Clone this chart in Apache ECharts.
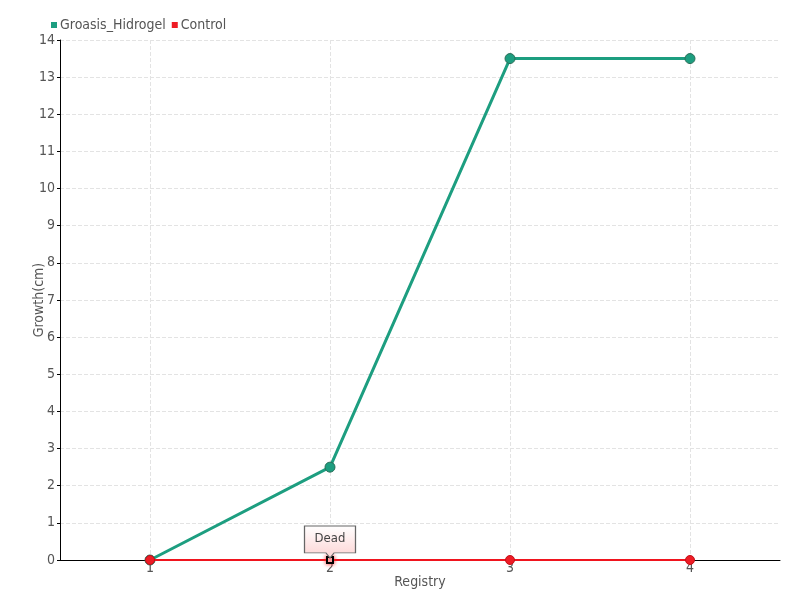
<!DOCTYPE html>
<html>
<head>
<meta charset="utf-8">
<script src="https://cdn.jsdelivr.net/npm/echarts@6/dist/echarts.min.js"></script>
<style>
  html, body { margin: 0; padding: 0; background: #fff; }
  #main { width: 800px; height: 600px; }
</style>
</head>
<body>
<div id="main"></div>
<script>
// data
const registry = ['1', '2', '3', '4'];
const hidrogel = [0, 2.5, 13.5, 13.5];
const control = [0, 0, 0, 0];
const deadIndex = 1;

const FONT = 'DejaVu Sans Condensed';

let myChart = echarts.init(document.getElementById('main'));

myChart.setOption({
  textStyle: { fontFamily: FONT },
  legend: {
    left: 46,
    top: 13,
    itemWidth: 6,
    itemHeight: 6,
    itemGap: 6,
    icon: 'rect',
    itemStyle: { borderWidth: 0 },
    textStyle: { fontFamily: FONT, fontSize: 14, color: '#555', padding: [0, 0, 0, -2] },
    data: ['Groasis_Hidrogel', 'Control']
  },
  grid: { left: 60, right: 20, top: 40, bottom: 40 },
  xAxis: {
    type: 'category',
    data: registry,
    name: 'Registry',
    nameLocation: 'middle',
    nameGap: 15,
    nameMoveOverlap: false,
    nameTextStyle: { fontFamily: FONT, fontSize: 14, color: '#555' },
    axisLine: { lineStyle: { color: '#000' } },
    axisTick: { alignWithLabel: true, lineStyle: { color: '#555' } },
    axisLabel: { fontFamily: FONT, fontSize: 14, color: '#555', margin: 1 },
    splitLine: { show: true, interval: 0, alignWithLabel: true, lineStyle: { type: 'dashed', color: '#e3e3e3' } }
  },
  yAxis: {
    type: 'value',
    min: 0,
    max: 14,
    interval: 1,
    name: 'Growth(cm)',
    nameLocation: 'middle',
    nameGap: 14,
    nameMoveOverlap: false,
    nameTextStyle: { fontFamily: FONT, fontSize: 14, color: '#555' },
    axisLine: { show: true, lineStyle: { color: '#000' } },
    axisTick: { show: true, length: 3, lineStyle: { color: '#000' } },
    axisLabel: { fontFamily: FONT, fontSize: 14, color: '#555', margin: 5 },
    splitLine: { lineStyle: { type: 'dashed', color: '#e3e3e3' } }
  },
  series: [
    {
      name: 'Groasis_Hidrogel',
      type: 'line',
      data: hidrogel,
      symbol: 'circle',
      symbolSize: 10,
      z: 2,
      lineStyle: { width: 3, color: '#1d9e80' },
      itemStyle: { color: '#1d9e80', borderColor: '#2a6e58', borderWidth: 1 }
    },
    {
      name: 'Control',
      type: 'line',
      data: control.map((v, i) => i === deadIndex
        ? { value: v, symbol: 'rect', symbolSize: 6,
            itemStyle: { color: '#fff', borderColor: '#000', borderWidth: 2, shadowBlur: 4, shadowColor: '#f33' } }
        : v),
      symbol: 'circle',
      symbolSize: 9,
      z: 3,
      lineStyle: { width: 2, color: '#f0141e' },
      itemStyle: { color: '#ee1c25', borderColor: '#c0101a', borderWidth: 1 },
      markPoint: {
        data: [{ coord: [deadIndex, 0], value: 'Dead' }],
        symbol: 'path://M0,0 L50,0 L50,26 L29,26 L25,31 L21,26 L0,26 Z',
        symbolSize: [51, 32],
        symbolOffset: [0, -18],
        symbolKeepAspect: false,
        itemStyle: {
          color: {
            type: 'linear', x: 0, y: 0, x2: 0, y2: 1,
            colorStops: [{ offset: 0, color: '#ffffff' }, { offset: 1, color: '#fdd3d3' }]
          },
          borderColor: '#666',
          borderWidth: 1
        },
        label: {
          show: true,
          formatter: 'Dead',
          offset: [0, -3],
          fontFamily: FONT,
          fontSize: 13,
          color: '#444'
        }
      }
    }
  ]
});
</script>
</body>
</html>
